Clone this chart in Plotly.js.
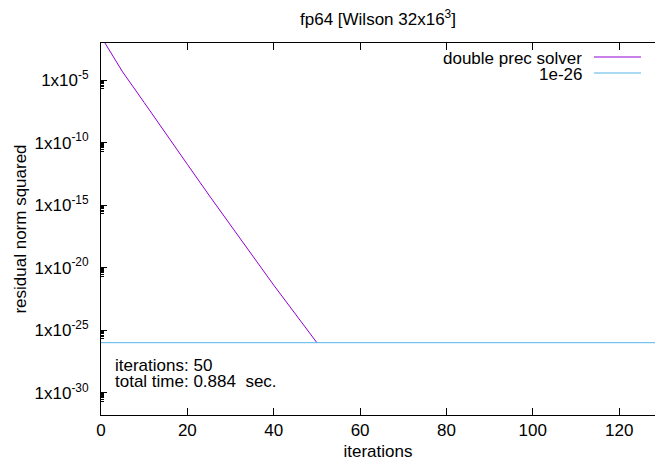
<!DOCTYPE html>
<html>
<head>
<meta charset="utf-8">
<script src="https://cdn.plot.ly/plotly-3.0.1.min.js"></script>
<style>
html,body{margin:0;padding:0;background:#fff;}
#chart{width:655px;height:467px;}
</style>
</head>
<body>
<div id="chart"></div>
<script>
// Data
const solverIter = [0, 2, 5, 10, 15, 20, 25, 30, 35, 40, 45, 50];
const solverResid = [3e-2, 2e-3, 4.5e-5, 1.6e-7, 5e-10, 1.8e-12, 6.3e-15, 2.5e-17, 1e-19, 4e-22, 2e-24, 1e-26];
const thresholdIter = [0, 130];
const thresholdVal = [1e-26, 1e-26];
const seriesNames = ["double prec solver", "1e-26"];
const xTickVals = [0, 20, 40, 60, 80, 100, 120];
const yTickVals = [1e-5, 1e-10, 1e-15, 1e-20, 1e-25, 1e-30];
const yTickText = ["1x10<sup>-5</sup>", "1x10<sup>-10</sup>", "1x10<sup>-15</sup>", "1x10<sup>-20</sup>", "1x10<sup>-25</sup>", "1x10<sup>-30</sup>"];
const infoLines = ["iterations: 50", "total time: 0.884  sec."];
const titleText = "fp64 [Wilson 32x16<sup>3</sup>]";

const colors = ["#9400d3", "#56b4e9"];

// minor ticks below each major tick
const yMinor = [];
yTickVals.forEach(v => { for (let k = 2; k <= 9; k++) yMinor.push(k * v / 10); });

const FONT = "Liberation Sans, Arial, sans-serif";
const FS = 17;
const f = {family: FONT, size: FS, color: "#000"};

const traces = [
  {x: solverIter, y: solverResid, type: "scatter", mode: "lines", name: seriesNames[0],
   line: {color: colors[0], width: 1}, showlegend: false},
  {x: thresholdIter, y: thresholdVal, type: "scatter", mode: "lines", name: seriesNames[1],
   line: {color: colors[1], width: 1}, showlegend: false}
];

// Pixel helpers for paper coordinates (plot area 101.5..655, 43..415)
const L = 101.5, R = 655, T = 43, B = 415;
const px = x => (x - L) / (R - L);
const py = y => (B - y) / (B - T);

const layout = {
  width: 655, height: 467,
  margin: {l: 101, r: 0, t: 43, b: 52, pad: 0},
  paper_bgcolor: "#fff", plot_bgcolor: "#fff",
  font: f,
  showlegend: false,
  title: {text: titleText, x: 0.5, xref: "paper", xanchor: "center",
          y: 1 - 19 / 467, yref: "container", yanchor: "middle", font: f},
  xaxis: {
    range: [0, 128.3], tickmode: "array", tickvals: xTickVals,
    ticks: "inside", ticklen: 7, tickwidth: 1, tickcolor: "#000",
    showline: true, linecolor: "#000", linewidth: 1, mirror: "ticks",
    showgrid: false, zeroline: false,
    tickfont: f,
    ticklabelstandoff: 0,
    title: {text: "iterations", font: f, standoff: 5}
  },
  yaxis: {
    type: "log", range: [-31.78, -2.04], tickmode: "array", tickvals: yTickVals, ticktext: yTickText,
    ticks: "inside", ticklen: 6, tickwidth: 1, tickcolor: "#000",
    minor: {tickmode: "array", tickvals: yMinor, ticks: "inside", ticklen: 3, tickcolor: "#000", tickwidth: 1},
    showline: true, linecolor: "#000", linewidth: 1, mirror: false,
    showgrid: false, zeroline: false,
    tickfont: f,
    ticklabelstandoff: 8,
    title: {text: "residual norm squared", font: f, standoff: 3}
  },
  annotations: [
    {xref: "paper", yref: "paper", x: px(584), y: py(58.5), xanchor: "right", yanchor: "middle",
     text: seriesNames[0], showarrow: false, font: f},
    {xref: "paper", yref: "paper", x: px(584), y: py(74.5), xanchor: "right", yanchor: "middle",
     text: seriesNames[1], showarrow: false, font: f},
    {xref: "paper", yref: "paper", x: px(113), y: py(365.5), xanchor: "left", yanchor: "middle", align: "left",
     text: infoLines[0], showarrow: false, font: f},
    {xref: "paper", yref: "paper", x: px(113), y: py(381.5), xanchor: "left", yanchor: "middle", align: "left",
     text: infoLines[1], showarrow: false, font: f}
  ],
  shapes: [
    {type: "line", xref: "paper", yref: "paper", x0: px(594), x1: px(641), y0: py(57), y1: py(57),
     line: {color: colors[0], width: 1}},
    {type: "line", xref: "paper", yref: "paper", x0: px(594), x1: px(641), y0: py(73), y1: py(73),
     line: {color: colors[1], width: 1}}
  ]
};

Plotly.newPlot("chart", traces, layout, {displayModeBar: false, staticPlot: true});
</script>
</body>
</html>
